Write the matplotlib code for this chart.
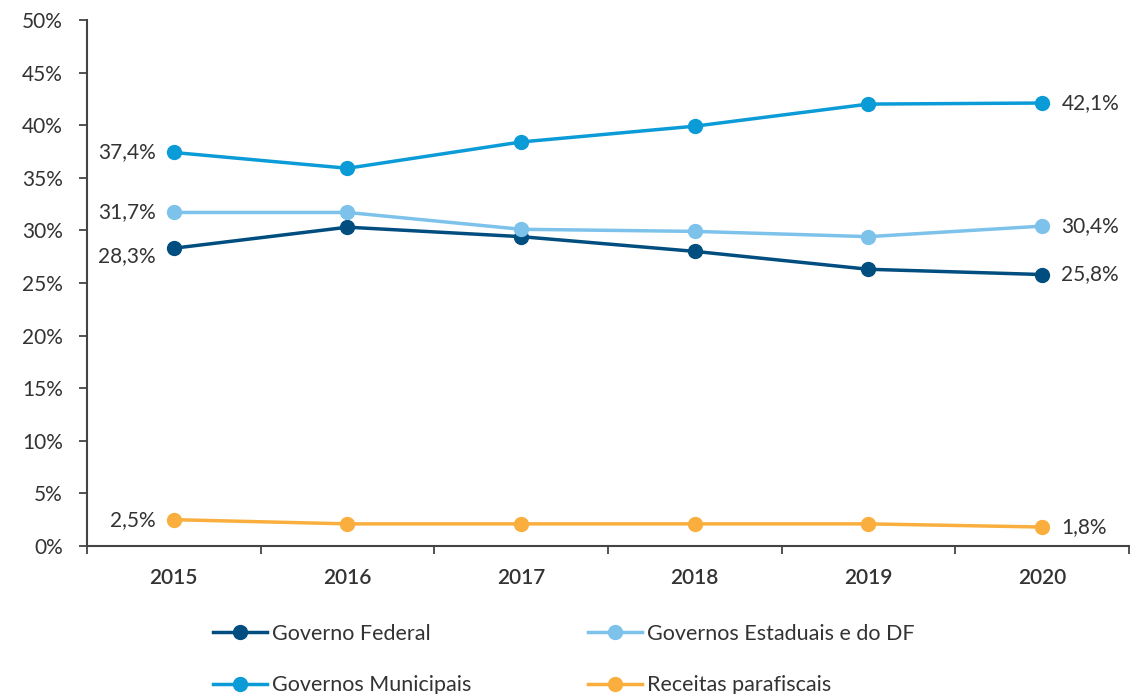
import matplotlib.pyplot as plt
from matplotlib.ticker import FuncFormatter

plt.rcParams['font.family'] = ['Lato', 'DejaVu Sans']

anos = ['2015', '2016', '2017', '2018', '2019', '2020']
federal = [28.3, 30.3, 29.4, 28.0, 26.3, 25.8]
estaduais = [31.7, 31.7, 30.1, 29.9, 29.4, 30.4]
municipais = [37.4, 35.9, 38.4, 39.9, 42.0, 42.1]
parafiscais = [2.5, 2.1, 2.1, 2.1, 2.1, 1.8]

series = [
    ('Governo Federal', federal, '#004e7f'),
    ('Governos Estaduais e do DF', estaduais, '#7dc2ea'),
    ('Governos Municipais', municipais, '#0b9bd7'),
    ('Receitas parafiscais', parafiscais, '#f9ae3d'),
]

texto = '#333333'

fig = plt.figure(figsize=(11.3, 6.94), dpi=100)
ax = fig.add_axes([0.077, 0.2133, 0.922, 0.758])

x = list(range(len(anos)))
linhas = {}
for nome, vals, cor in series:
    l, = ax.plot(x, vals, color=cor, linewidth=2.5, marker='o', markersize=10, label=nome)
    linhas[nome] = l

# rotulos do primeiro e ultimo ano
def fmt(v):
    return f"{v:.1f}%".replace('.', ',')

for nome, vals, cor in series:
    dy = 0
    if vals is federal:
        dy = -6
    ax.annotate(fmt(vals[0]), (x[0], vals[0]), xytext=(-13, dy), textcoords='offset points',
                ha='right', va='center', fontsize=15, color=texto)
    ax.annotate(fmt(vals[-1]), (x[-1], vals[-1]), xytext=(14, 0), textcoords='offset points',
                ha='left', va='center', fontsize=15, color=texto)

ax.set_xlim(-0.5, 5.5)
ax.set_ylim(0, 50)
ax.set_yticks(range(0, 51, 5))
ax.yaxis.set_major_formatter(FuncFormatter(lambda v, p: f"{int(v)}%"))
ax.set_xticks(x)
ax.set_xticklabels(anos, fontweight='semibold')
ax.set_xticks([i - 0.5 for i in range(len(anos) + 1)], minor=True)
ax.tick_params(axis='x', which='major', length=0, pad=16, labelsize=15, labelcolor=texto)
ax.tick_params(axis='x', which='minor', length=6, width=1.3, color='#444444')
ax.tick_params(axis='y', length=5.5, width=1.3, color='#444444', labelsize=15, labelcolor=texto, pad=12)

for s in ['top', 'right']:
    ax.spines[s].set_visible(False)
for s in ['left', 'bottom']:
    ax.spines[s].set_color('#444444')
    ax.spines[s].set_linewidth(1.5)

# ordem da legenda: preenche por coluna
ordem = ['Governo Federal', 'Governos Municipais', 'Governos Estaduais e do DF', 'Receitas parafiscais']
ax.legend([linhas[n] for n in ordem], ordem, loc='upper left', bbox_to_anchor=(0.121, -0.148),
          ncol=2, frameon=False, fontsize=15.5, labelcolor=texto, handlelength=2.5,
          handletextpad=0.25, columnspacing=5.4, labelspacing=1.45, borderpad=0, borderaxespad=0)

fig.savefig('out.png', dpi=100)
